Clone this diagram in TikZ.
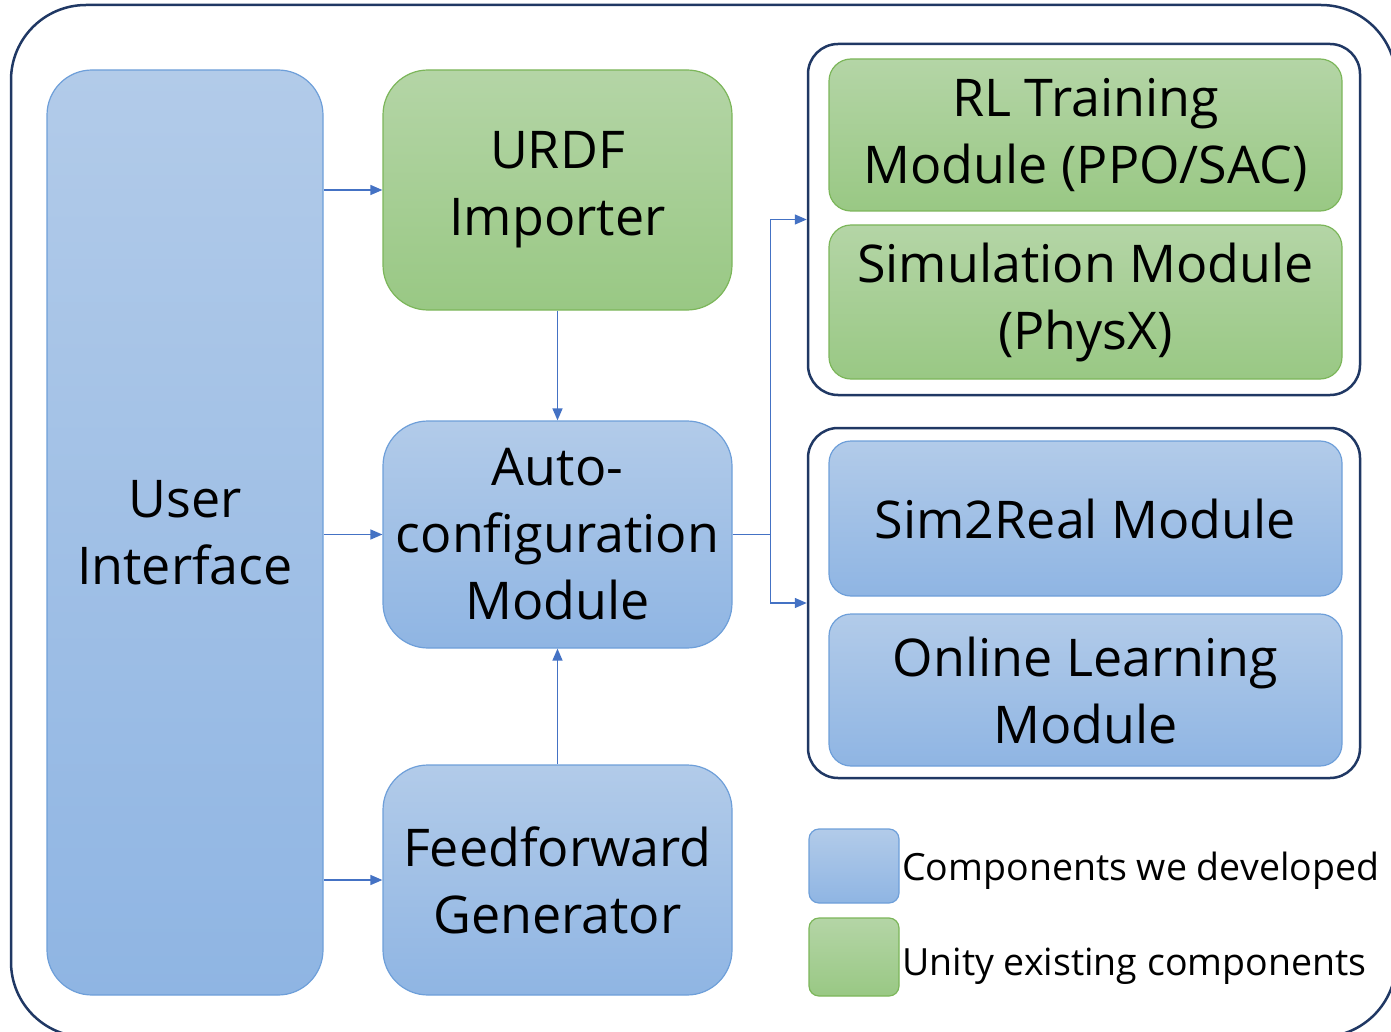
\documentclass[tikz,border=0pt]{standalone}
\usepackage{fontspec}
\setmainfont{Open Sans}
\usetikzlibrary{arrows.meta}
\definecolor{framenavy}{HTML}{203864}
\definecolor{devtop}{HTML}{B2CBE9}
\definecolor{devbot}{HTML}{8FB5E3}
\definecolor{devline}{HTML}{6E9FD9}
\definecolor{unitop}{HTML}{B4D5A6}
\definecolor{unibot}{HTML}{99C884}
\definecolor{uniline}{HTML}{7CB65A}
\definecolor{arrowblue}{HTML}{4472C4}
\newcommand\bigtxt{\fontsize{52}{67}\selectfont}
\newcommand\legtxt{\fontsize{37.5}{45}\selectfont}
\begin{document}
\begin{tikzpicture}[x=1pt,y=-1pt,
    devbox/.style={draw=devline,line width=1.2pt,top color=devtop,bottom color=devbot,
      align=center,font=\bigtxt,inner sep=0pt},
    unibox/.style={draw=uniline,line width=1.2pt,top color=unitop,bottom color=unibot,
      align=center,font=\bigtxt,inner sep=0pt},
    groupbox/.style={draw=framenavy,line width=2.5pt,rounded corners=30pt,inner sep=0pt},
    arr/.style={draw=arrowblue,line width=1.4pt,-{Triangle[length=12pt,width=10pt]}}]
  \useasboundingbox (0,0) rectangle (1391,1032);
  % outer frame
  \draw[framenavy,line width=2.5pt,rounded corners=75pt] (11,5) rectangle (1396,1037);

  % left column
  \node[devbox,rounded corners=45pt,minimum width=276pt,minimum height=925pt] (ui) at (185,532.5) {User\\Interface};

  % middle column
  \node[unibox,rounded corners=45pt,minimum width=349pt,minimum height=240pt] (urdf) at (557.5,190) {URDF\\Importer};
  \node[devbox,rounded corners=45pt,minimum width=349pt,minimum height=227pt] (auto) at (557.5,534.5) {Auto-\\configuration\\Module};
  \node[devbox,rounded corners=45pt,minimum width=349pt,minimum height=230pt] (ff) at (557.5,880) {Feedforward\\Generator};

  % right groups
  \node[groupbox,minimum width=552pt,minimum height=351pt] (simgroup) at (1084,219.5) {};
  \node[unibox,rounded corners=22pt,minimum width=513pt,minimum height=152pt] (rl) at (1085.5,135) {RL Training\\Module (PPO/SAC)};
  \node[unibox,rounded corners=22pt,minimum width=513pt,minimum height=154pt] (sim) at (1085.5,302) {Simulation Module\\(PhysX)};

  \node[groupbox,minimum width=552pt,minimum height=350pt] (realgroup) at (1084,603) {};
  \node[devbox,rounded corners=22pt,minimum width=513pt,minimum height=155pt] (s2r) at (1085.5,518.5) {Sim2Real Module};
  \node[devbox,rounded corners=22pt,minimum width=513pt,minimum height=152pt] (online) at (1085.5,690) {Online Learning\\Module};

  % legend
  \node[devbox,rounded corners=10pt,minimum width=90pt,minimum height=74pt] (legdev) at (854,866) {};
  \node[unibox,rounded corners=10pt,minimum width=90pt,minimum height=78pt] (leguni) at (854,957) {};
  \node[anchor=base west,font=\legtxt,inner sep=0pt] (legdevtxt) at (902,880) {Components we developed};
  \node[anchor=base west,font=\legtxt,inner sep=0pt] (legunitxt) at (902,975) {Unity existing components};

  % connectors
  \draw[arr] (ui.east |- urdf.west) -- (urdf.west);
  \draw[arr] (ui.east |- auto.west) -- (auto.west);
  \draw[arr] (ui.east |- ff.west) -- (ff.west);
  \draw[arr] (urdf.south) -- (auto.north);
  \draw[arr] (ff.north) -- (auto.south);
  \draw[arr] (auto.east) -- ++(38,0) |- (simgroup.west);
  \draw[arr] (auto.east) -- ++(38,0) |- (realgroup.west);
\end{tikzpicture}
\end{document}
